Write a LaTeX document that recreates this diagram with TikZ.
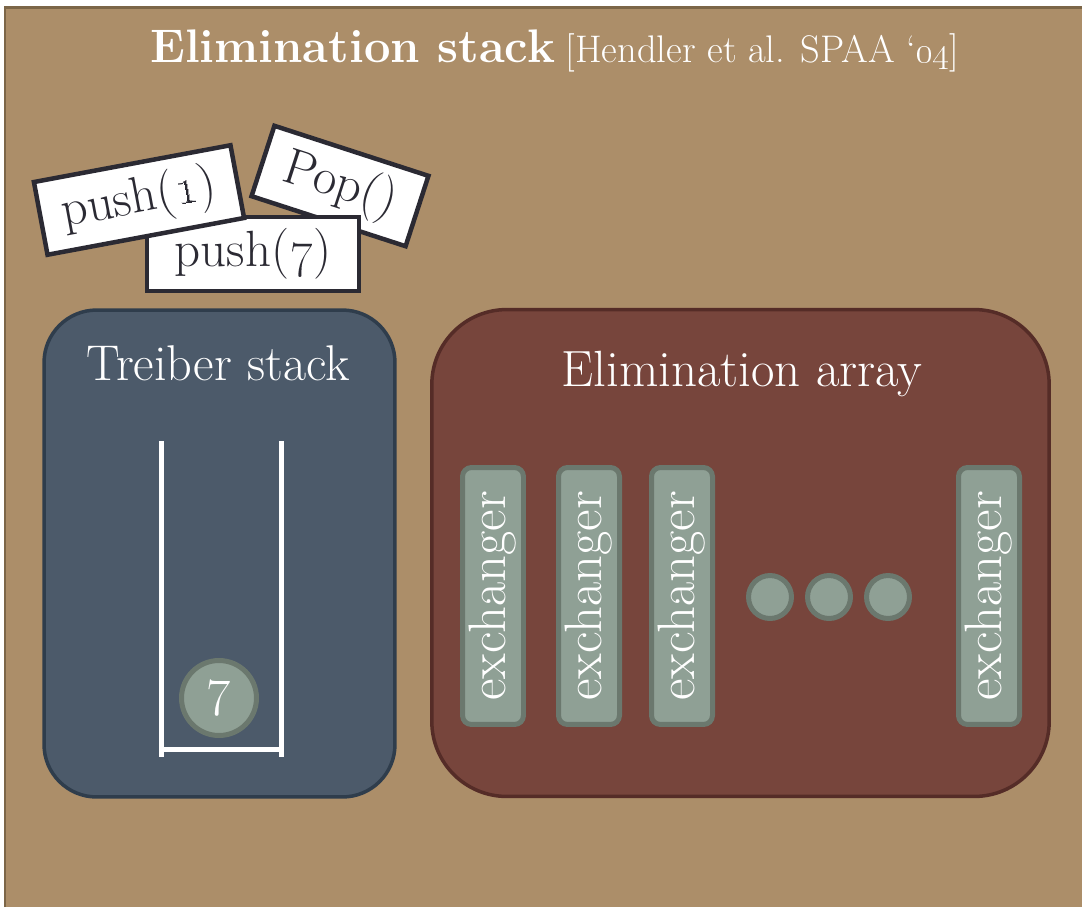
\documentclass[tikz,border=0pt]{standalone}
\usetikzlibrary{positioning,calc}

\definecolor{slidebg}{RGB}{172,142,105}
\definecolor{slideedge}{RGB}{124,102,72}
\definecolor{treiberfill}{RGB}{76,90,106}
\definecolor{treiberedge}{RGB}{47,61,76}
\definecolor{elimfill}{RGB}{119,69,60}
\definecolor{elimedge}{RGB}{85,44,39}
\definecolor{tokfill}{RGB}{143,160,149}
\definecolor{tokedge}{RGB}{107,120,110}
\definecolor{cardedge}{RGB}{43,42,51}

\begin{document}
\begin{tikzpicture}[
  x=0.02cm, y=-0.02cm,
  every node/.style={font=\fontsize{29}{32}\selectfont, inner sep=0pt},
  headline/.style={text=white, font=\fontsize{26.8}{30}\selectfont\bfseries},
  cite/.style={text=white, font=\fontsize{21.9}{24}\selectfont},
  box/.style={line width=0.07cm, minimum height=9.74cm},
  treiber/.style={box, fill=treiberfill, draw=treiberedge, minimum width=7.02cm, rounded corners=1.05cm},
  elim/.style={box, fill=elimfill, draw=elimedge, minimum width=12.35cm, rounded corners=1.5cm},
  boxtitle/.style={text=white, anchor=base},
  exch/.style={rotate=90, fill=tokfill, draw=tokedge, line width=0.1cm, rounded corners=0.18cm,
    minimum width=5.14cm, minimum height=1.22cm, text=white, font=\fontsize{30}{32}\selectfont},
  token/.style={circle, fill=tokfill, draw=tokedge, line width=0.1cm, text=white},
  card/.style={fill=white, draw=cardedge, line width=0.09cm, text=cardedge, minimum height=1.48cm},
  wall/.style={white, line width=0.1cm}
]
\useasboundingbox (0,0) rectangle (1082,907);
\fill[white] (0,0) rectangle (1082,907);
\fill[slidebg] (5,7) rectangle (1082,907);
\draw[slideedge, line width=0.06cm] (5,907) -- (5,7) -- (1082,7);

% heading
\node[headline, anchor=base west] (title) at (150,62) {Elimination stack};
\node[cite, right=0.2cm of title.base east, anchor=base west] (cite)
  {[Hendler et al. SPAA `\oldstylenums{04}]};

% the two parts
\node[treiber] (treiber) at (219.5,553.5) {};
\node[boxtitle, font=\fontsize{28.6}{32}\selectfont] (treiberlbl) at (218,380) {Treiber stack};
\node[elim] (elim) at (740.5,553) {};
\node[boxtitle] (elimlbl) at (742,386) {Elimination array};

% stack walls and its one element
\draw[wall] (161,441) -- (161,757);
\draw[wall] (281,441) -- (281,757);
\draw[wall] (161,749) -- (281,749);
\node[token, minimum size=1.5cm, font=\fontsize{30}{32}\selectfont] (top) at (219,698) {7};

% exchanger slots
\node[exch] (ex1) at (493,596) {exchanger};
\node[exch] (ex2) at (589,596) {exchanger};
\node[exch] (ex3) at (682,596) {exchanger};
\foreach \x [count=\i] in {770,829,888}
  \node[token, minimum size=0.86cm] (dot\i) at (\x,597) {};
\node[exch] (exn) at (989,596) {exchanger};

% pending operations
\node[card, minimum width=3.24cm, rotate=-18] (pop) at (340,186) {Pop()};
\node[card, minimum width=4.24cm] (push7) at (253,254) {push(\oldstylenums{7})};
\node[card, minimum width=4cm, rotate=10.6] (push1) at (139,200) {push(\oldstylenums{1})};
\end{tikzpicture}
\end{document}
